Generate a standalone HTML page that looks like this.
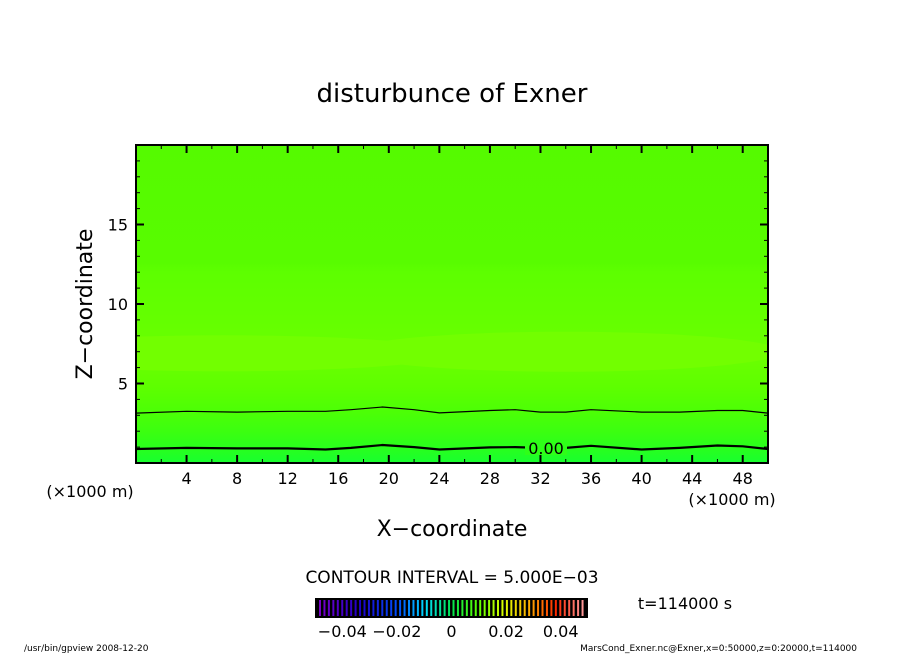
<!DOCTYPE html>
<html><head><meta charset="utf-8"><style>
body{margin:0;background:#fff;}
svg text{font-family:"DejaVu Sans","Liberation Sans",sans-serif;fill:#000;}
</style></head><body>
<svg id="chart" width="904" height="654" viewBox="0 0 904 654">
<defs>
<linearGradient id="bg" x1="0" y1="1" x2="0" y2="0">
<stop offset="0" stop-color="#18ff30"/>
<stop offset="0.05" stop-color="#2aff1c"/>
<stop offset="0.1" stop-color="#3cff10"/>
<stop offset="0.16" stop-color="#4cff06"/>
<stop offset="0.24" stop-color="#5eff00"/>
<stop offset="0.33" stop-color="#6aff00"/>
<stop offset="0.45" stop-color="#64ff00"/>
<stop offset="0.6" stop-color="#5dff00"/>
<stop offset="0.63" stop-color="#58fc00"/>
<stop offset="1" stop-color="#55fa00"/>
</linearGradient>
<clipPath id="clip"><rect x="136" y="145" width="632" height="318"/></clipPath>
</defs>
<text x="452" y="102" text-anchor="middle" font-size="26">disturbunce of Exner</text>
<g id="plot" clip-path="url(#clip)">
<rect x="136" y="145" width="632" height="318" fill="url(#bg)"/>
</g>
<g id="axes"></g>
<text x="452" y="536" text-anchor="middle" font-size="22">X−coordinate</text>
<text transform="translate(92,304) rotate(-90)" text-anchor="middle" font-size="22">Z−coordinate</text>
<text x="90" y="497" text-anchor="middle" font-size="16">(×1000 m)</text>
<text x="732" y="505" text-anchor="middle" font-size="16">(×1000 m)</text>
<text x="452" y="583" text-anchor="middle" font-size="17">CONTOUR INTERVAL = 5.000E−03</text>
<g id="cbar"></g>
<text x="685" y="609" text-anchor="middle" font-size="16">t=114000 s</text>
<text x="24" y="651" font-size="9">/usr/bin/gpview   2008-12-20</text>
<text x="857" y="651" text-anchor="end" font-size="9">MarsCond_Exner.nc@Exner,x=0:50000,z=0:20000,t=114000</text>
</svg>
<script>
const xTicks=[4,8,12,16,20,24,28,32,36,40,44,48];
const yTicks=[5,10,15];
const contourX=[0,4,8,12,15,17,19.5,22,24,28,30,32,34,36,40,43,46,48,50];
const contourZero=[0.88,0.95,0.92,0.92,0.85,0.95,1.13,1.0,0.85,0.98,1.0,0.95,0.95,1.08,0.85,0.95,1.1,1.05,0.88];
const contourUpper=[3.14,3.25,3.2,3.25,3.25,3.35,3.52,3.35,3.15,3.3,3.35,3.2,3.2,3.35,3.2,3.2,3.3,3.3,3.14];
const cbarLabels=[-0.04,-0.02,0,0.02,0.04];
const NS="http://www.w3.org/2000/svg";
const X0=136,X1=768,Y0=463,Y1=145;
const sx=v=>X0+(v/50)*(X1-X0);
const sy=v=>Y0-(v/20)*(Y0-Y1);
function el(tag,attrs,parent){const e=document.createElementNS(NS,tag);for(const k in attrs)e.setAttribute(k,attrs[k]);parent.appendChild(e);return e;}
const plot=document.getElementById('plot');
let b1=el('ellipse',{cx:sx(7),cy:sy(6.9),rx:sx(18)-sx(0),ry:18,fill:'#72ff00'},plot);


let b2=el('ellipse',{cx:sx(34),cy:sy(7),rx:sx(17)-sx(0),ry:20,fill:'#72ff00'},plot);


function line(arr,w,name){
  const d=contourX.map((x,i)=>(i?'L':'M')+sx(x).toFixed(1)+','+sy(arr[i]).toFixed(1)).join(' ');
  const p=el('path',{d:d,fill:'none',stroke:'#000','stroke-width':w},plot);
  
  
}
line(contourUpper,1.2,'contour-upper');
line(contourZero,2.2,'contour-zero');
const lb=el('rect',{x:525,y:440,width:42,height:15,fill:'#2eff18'},plot);


const lt=el('text',{x:546,y:454,'text-anchor':'middle','font-size':16},document.getElementById('chart'));
lt.textContent='0.00';


const ax=document.getElementById('axes');
const fr=el('rect',{x:X0,y:Y1,width:X1-X0,height:Y0-Y1,fill:'none',stroke:'#000','stroke-width':2},ax);


for(let v=2;v<50;v+=2){
  const big=v%4===0;const L=big?8:4;
  el('line',{x1:sx(v),x2:sx(v),y1:Y0,y2:Y0-L,stroke:'#000','stroke-width':big?2:1},ax);
  el('line',{x1:sx(v),x2:sx(v),y1:Y1,y2:Y1+L,stroke:'#000','stroke-width':big?2:1},ax);
}
for(let v=1;v<20;v++){
  const big=v%5===0;const L=big?8:4;
  el('line',{x1:X0,x2:X0+L,y1:sy(v),y2:sy(v),stroke:'#000','stroke-width':big?2:1},ax);
  el('line',{x1:X1,x2:X1-L,y1:sy(v),y2:sy(v),stroke:'#000','stroke-width':big?2:1},ax);
}
xTicks.forEach(v=>{const t=el('text',{x:sx(v),y:484,'text-anchor':'middle','font-size':16},ax);t.textContent=v;

});
yTicks.forEach(v=>{const t=el('text',{x:128,y:sy(v)+6,'text-anchor':'end','font-size':16},ax);t.textContent=v;

});
const cb=document.getElementById('cbar');
el('rect',{x:315,y:598,width:273,height:20,fill:'#000'},cb);
const n=60;
function cmap(t){
  const stops=[[0,[120,0,200]],[0.15,[30,0,200]],[0.3,[0,80,255]],[0.4,[0,220,255]],[0.5,[0,230,80]],[0.6,[90,255,0]],[0.7,[220,255,0]],[0.8,[255,170,0]],[0.9,[255,40,0]],[1,[255,150,150]]];
  for(let i=1;i<stops.length;i++){if(t<=stops[i][0]){const a=stops[i-1],b=stops[i],f=(t-a[0])/(b[0]-a[0]);return 'rgb('+a[1].map((c,j)=>Math.round(c+(b[1][j]-c)*f)).join(',')+')';}}
  return 'rgb(255,150,150)';
}
for(let i=0;i<n;i++){const x=318+i*(267/n)+2;el('line',{x1:x,x2:x,y1:600,y2:616,stroke:cmap(i/(n-1)),'stroke-width':2},cb);}
cbarLabels.forEach(v=>{const x=315+(v+0.05)/0.1*273;const t=el('text',{x:x,y:637,'text-anchor':'middle','font-size':16},cb);t.textContent=v===0?'0':(v<0?'−':'')+Math.abs(v).toFixed(2);

});
</script>
</body></html>
